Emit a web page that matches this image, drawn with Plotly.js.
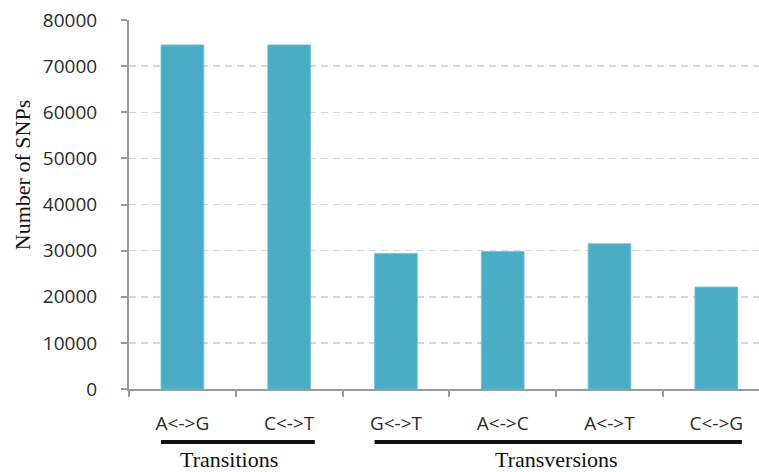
<!DOCTYPE html>
<html>
<head>
<meta charset="utf-8">
<script src="https://cdn.plot.ly/plotly-3.0.1.min.js"></script>
<style>html,body{margin:0;padding:0;background:#fff;}#chart{width:759px;height:472px;}</style>
</head>
<body>
<div id="chart"></div>
<script>
const categories = ['A<->G', 'C<->T', 'G<->T', 'A<->C', 'A<->T', 'C<->G'];
const snpCounts = [74600, 74600, 29400, 29800, 31500, 22100];
const yTicks = [0, 10000, 20000, 30000, 40000, 50000, 60000, 70000, 80000];
const groupNames = ['Transitions', 'Transversions'];
const groupFirst = [0, 2];
const groupLast = [1, 5];

const serif = '"Liberation Serif", "Times New Roman", serif';
const sans = '"Open Sans", sans-serif';

const shapes = [];
const annotations = [];
groupNames.forEach((g, i) => {
  shapes.push({
    type: 'line', xref: 'x', yref: 'paper',
    x0: groupFirst[i] - 0.2, x1: groupLast[i] + 0.24,
    y0: -0.1436, y1: -0.1436,
    line: {color: '#111', width: 4}
  });
  annotations.push({
    xref: 'x', yref: 'paper',
    x: (groupFirst[i] + groupLast[i]) / 2 - (i === 0 ? 0.06 : 0), y: -0.192,
    xanchor: 'center', yanchor: 'middle',
    text: g, showarrow: false,
    font: {family: serif, size: 22, color: '#111'}
  });
});
annotations.push({
  xref: 'paper', yref: 'paper',
  x: -0.168, y: 0.58, xanchor: 'center', yanchor: 'middle',
  text: 'Number of SNPs', textangle: -90, showarrow: false,
  font: {family: serif, size: 22, color: '#111'}
});

const data = [{
  type: 'bar',
  x: categories,
  y: snpCounts,
  width: 0.4,
  marker: {color: '#4bacc6', line: {color: '#6cc0d6', width: 0.8}},
  hoverinfo: 'x+y'
}];

const layout = {
  width: 759, height: 472,
  margin: {l: 129, r: 0, t: 20, b: 83},
  paper_bgcolor: '#fff', plot_bgcolor: '#fff',
  showlegend: false,
  bargap: 0.6,
  xaxis: {
    type: 'category',
    range: [-0.5, 5.4],
    showline: true, linecolor: '#9a9a9a', linewidth: 2,
    ticks: 'outside', tickson: 'boundaries', ticklen: 6, tickwidth: 2, tickcolor: '#9a9a9a',
    showgrid: false, zeroline: false,
    ticklabelstandoff: 16,
    tickfont: {family: sans, size: 19, color: '#2a2a2a'}
  },
  yaxis: {
    range: [0, 80000],
    tickvals: yTicks,
    ticktext: yTicks.map(String),
    showline: true, linecolor: '#9a9a9a', linewidth: 2,
    ticks: 'outside', ticklen: 6, tickwidth: 2, tickcolor: '#9a9a9a',
    showgrid: true, gridcolor: '#cfd6e6', gridwidth: 1.5, griddash: '7px,5px',
    zeroline: false,
    ticklabelstandoff: 20,
    tickfont: {family: sans, size: 19, color: '#2a2a2a'}
  },
  shapes: shapes,
  annotations: annotations
};

Plotly.newPlot('chart', data, layout, {displayModeBar: false, staticPlot: true});
</script>
</body>
</html>
